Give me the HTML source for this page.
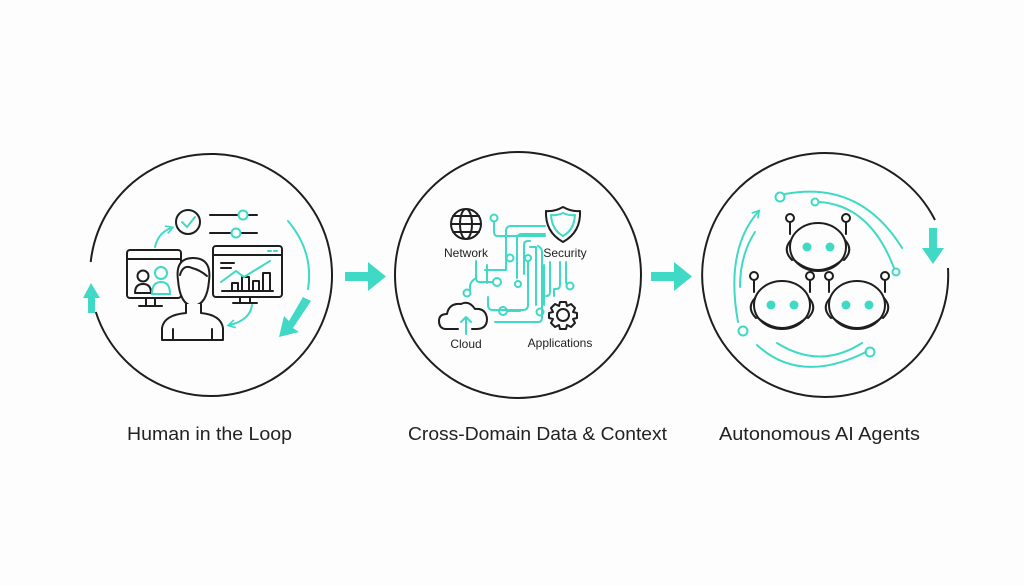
<!DOCTYPE html>
<html><head><meta charset="utf-8"><style>
html,body{margin:0;padding:0;background:#fdfdfd;}
svg{display:block}
text{font-family:"Liberation Sans",Arial,sans-serif;fill:#222}
</style></head><body>
<svg width="1024" height="585" viewBox="0 0 1024 585" xmlns="http://www.w3.org/2000/svg">
<rect width="1024" height="585" fill="#fdfdfd"/>
<defs>
<marker id="ah" viewBox="0 0 10 10" refX="6" refY="5" markerWidth="5" markerHeight="5" orient="auto"><path d="M1,1 L8,5 L1,9" fill="none" stroke="#3fd9c5" stroke-width="1.6"/></marker>
</defs>
<g fill="none" stroke="#1e1e1e" stroke-width="2">
<path d="M90.7,262 A121,121 0 1 1 95.8,312"/>
<circle cx="518" cy="275" r="123"/>
<path d="M935,220 A123,122 0 1 0 948,268"/>
</g>
<g fill="#3fd9c5">
<rect x="345" y="272" width="26" height="9"/><polygon points="368,262 386,276.5 368,291"/>
<rect x="651" y="272" width="26" height="9"/><polygon points="674,262 692,276.5 674,291"/>
</g>

<g fill="none" stroke="#1e1e1e" stroke-width="2" stroke-linecap="round" stroke-linejoin="round">
<circle cx="188" cy="222" r="12"/>
<line x1="210" y1="215" x2="257" y2="215"/>
<line x1="210" y1="233" x2="257" y2="233"/>
<rect x="127" y="250" width="54" height="48" rx="3"/>
<line x1="127" y1="259" x2="181" y2="259"/>
<path d="M146,298 V305 M139,306 H162 M155,298 V305"/>
<circle cx="143" cy="276" r="5.5"/>
<path d="M135,293 Q135,284 143,284 Q151,284 151,293 Z"/>
<rect x="213" y="246" width="69" height="51" rx="3"/>
<line x1="213" y1="255" x2="282" y2="255"/>
<path d="M240,297 V302 M233,303 H257 M250,297 V302"/>
<line x1="221" y1="263" x2="234" y2="263"/><line x1="221" y1="268" x2="231" y2="268"/>
<path d="M232,290 V283 H238 V290 M242,290 V277 H249 V290 M253,290 V281 H259 V290 M263,290 V273 H270 V290"/>
<line x1="222" y1="291" x2="273" y2="291"/>
<path d="M178,280 Q175,258 193,258 Q212,258 209,281 Q207,305 193,306 Q180,305 178,280 Z" fill="#fdfdfd"/>
<path d="M180,275 Q183,264 192,268 Q200,270 207,276"/>
<path d="M186,304 V313 Q164,315 162,328 V340 H223 V328 Q221,315 201,313 V304" fill="#fdfdfd"/>
<line x1="173" y1="329" x2="173" y2="340"/><line x1="212" y1="329" x2="212" y2="340"/>
</g>
<g fill="none" stroke="#3fd9c5" stroke-width="2" stroke-linecap="round">
<path d="M182,222 L187,227 L195,217"/>
<circle cx="243" cy="215" r="4.5" fill="#fdfdfd"/>
<circle cx="236" cy="233" r="4.5" fill="#fdfdfd"/>
<circle cx="161" cy="273" r="6"/>
<path d="M152,294 Q152,282 161,282 Q170,282 170,294 Z"/>
<path d="M221,282 L236,271 L244,277 L270,261"/>
<line x1="268" y1="251" x2="271" y2="251"/><line x1="274" y1="251" x2="277" y2="251"/>
<path d="M155,247 Q158,233 171,228" marker-end="url(#ah)"/>
<path d="M252,305 Q250,320 230,325" marker-end="url(#ah)"/>
<path d="M288,221 Q314,252 308,289"/>
</g>
<g fill="#3fd9c5">
<polygon points="303,297 311,301 293,328 299,332 279,337 284,316 289,321"/>
<polygon points="91,283 100,298 95,298 95,313 88,313 88,298 83,298"/>
</g>

<g fill="none" stroke="#1e1e1e" stroke-width="2" stroke-linecap="round" stroke-linejoin="round">
<circle cx="466" cy="224" r="15"/>
<ellipse cx="466" cy="224" rx="6" ry="15"/>
<line x1="451" y1="224" x2="481" y2="224"/>
<path d="M453,216 H479 M453,232 H479"/>
<path d="M563,207 Q572,212 580,211 Q581,232 563,242 Q545,232 546,211 Q554,212 563,207 Z"/>
<path d="M458,329 H445 Q439,328 439,321 Q439,314 447,314 Q449,303 461,304 Q469,300 475,309 Q486,308 487,319 Q487,329 476,329 H472"/>
<circle cx="563" cy="315" r="6"/>
<path d="M560,302 H566 L567,306 L571,304 L575,308 L573,312 L577,313 V318 L573,319 L575,323 L571,327 L567,325 L566,329 H560 L559,325 L555,327 L551,323 L553,319 L549,318 V313 L553,312 L551,308 L555,304 L559,306 Z"/>
</g>
<g fill="none" stroke="#3fd9c5" stroke-width="2" stroke-linecap="round" stroke-linejoin="round">
<path d="M563,213 Q570,216 575,215 Q574,230 563,236 Q552,230 551,215 Q556,216 563,213 Z"/>
<path d="M466,334 V317 M461,322 L466,317 L471,322"/>
<circle cx="494" cy="218" r="3.5"/>
<path d="M494,222 V232 Q494,236 498,236 H545"/>
<path d="M545,226 H511 Q506,226 506,231 V270 H485"/>
<path d="M545,234 H522 Q517,234 517,239 V278"/>
<circle cx="510" cy="258" r="3.5"/>
<path d="M530,241 H528 Q524,241 524,245 V274"/>
<circle cx="518" cy="284" r="3"/>
<path d="M530,247 H536 V305"/>
<circle cx="528" cy="258" r="3"/><path d="M528,262 V305 Q528,310 523,310 H493 Q488,310 488,305 V297"/>
<path d="M538,246 Q542,248 542,252 V318 Q542,322 538,322 H495"/>
<circle cx="503" cy="311" r="4"/><path d="M507,311 H520"/>
<path d="M476,261 V278 Q476,282 480,282 H493"/><circle cx="497" cy="282" r="4"/>
<path d="M487,265 V283"/>
<path d="M476,278 Q470,282 470,286 V290"/><circle cx="467" cy="293" r="3.5"/>
<path d="M544,265 V305"/><circle cx="540" cy="312" r="3.5"/>
<path d="M560,262 V285 Q560,289 556,289 H554 V296"/>
<path d="M566,262 V283"/><circle cx="570" cy="286" r="3.5"/>
<path d="M550,262 V292 Q550,296 546,296"/>
</g>
<g font-size="12" text-anchor="middle">
<text x="466" y="257">Network</text>
<text x="565" y="257">Security</text>
<text x="466" y="348">Cloud</text>
<text x="560" y="347">Applications</text>
</g>

<g fill="none" stroke="#3fd9c5" stroke-width="2" stroke-linecap="round">
<circle cx="780" cy="197" r="4.5"/>
<path d="M785,194 Q860,180 902,248"/>
<circle cx="815" cy="202" r="3.5"/>
<path d="M819,202 Q870,205 894,268"/>
<circle cx="896" cy="272" r="3.5"/>
<path d="M738,322 Q725,250 758,212" marker-end="url(#ah)"/>
<circle cx="743" cy="331" r="4.5"/>
<path d="M740,287 Q740,255 755,232"/>
<path d="M757,345 Q800,385 866,352"/>
<circle cx="870" cy="352" r="4.5"/>
<path d="M777,343 Q820,370 862,343"/>
</g>
<g fill="#3fd9c5"><polygon points="929,228 937,228 937,248 944,248 933,264 922,248 929,248"/></g>
<g fill="none" stroke="#1e1e1e" stroke-width="2" stroke-linecap="round">
<g id="bot">
<ellipse cx="818" cy="247" rx="28" ry="24" fill="#fdfdfd"/>
<path d="M791,240 Q782,250 792,260 M845,240 Q854,250 844,260"/>
<path d="M794,260 Q818,280 842,260"/>
<circle cx="790" cy="218" r="4"/><path d="M790,222 V234"/>
<circle cx="846" cy="218" r="4"/><path d="M846,222 V234"/>
<circle cx="807" cy="247" r="4.5" fill="#3fd9c5" stroke="none"/>
<circle cx="830" cy="247" r="4.5" fill="#3fd9c5" stroke="none"/>
</g>
<use href="#bot" x="-36" y="58"/>
<use href="#bot" x="39" y="58"/>
</g>

<g font-size="18">
<text x="127" y="440" textLength="165" lengthAdjust="spacingAndGlyphs">Human in the Loop</text>
<text x="408" y="440" textLength="259" lengthAdjust="spacingAndGlyphs">Cross-Domain Data &amp; Context</text>
<text x="719" y="440" textLength="201" lengthAdjust="spacingAndGlyphs">Autonomous AI Agents</text>
</g>
</svg>
</body></html>
